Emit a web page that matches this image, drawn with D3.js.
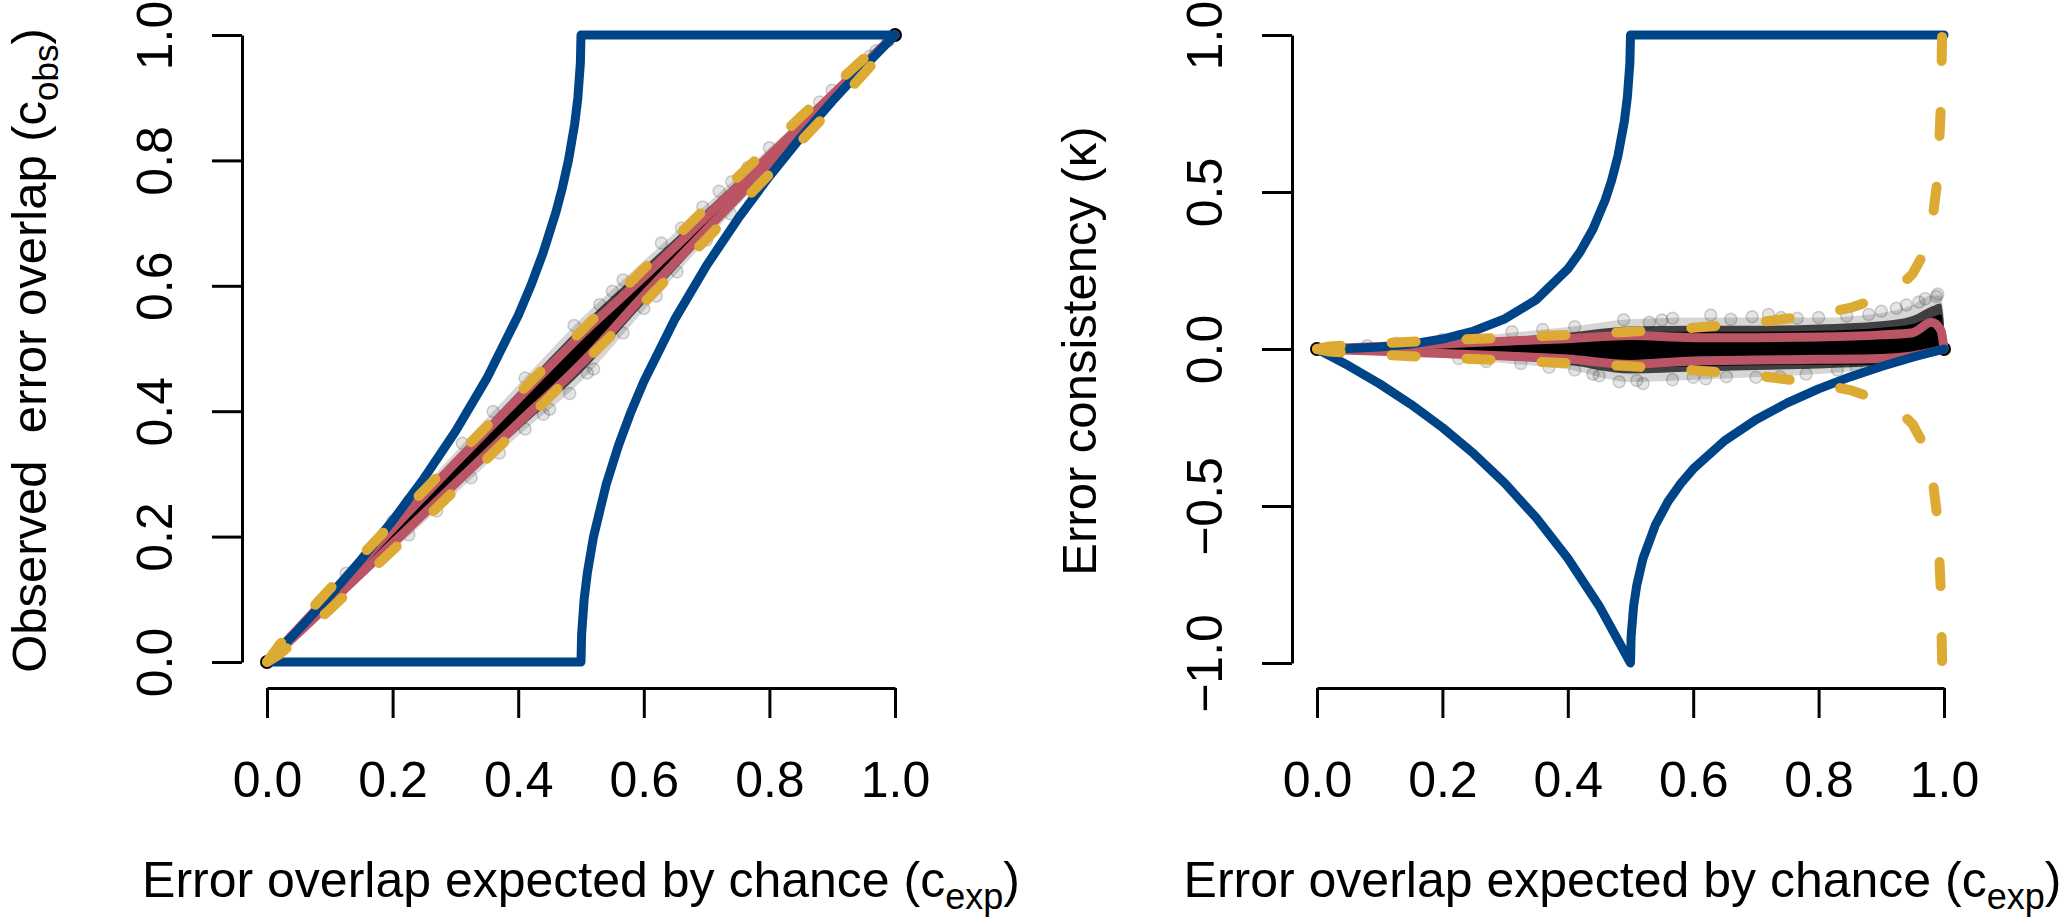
<!DOCTYPE html>
<html>
<head>
<meta charset="utf-8">
<script src="https://cdn.jsdelivr.net/npm/d3@7"></script>
<style>
body { margin: 0; background: #fff; }
svg text { font-family: "Liberation Sans", Arial, Helvetica, sans-serif; fill: #000; }
</style>
</head>
<body>
<svg id="chart" width="2063" height="917"></svg>
<script>
// tick values
var ticksX = [0, 0.2, 0.4, 0.6, 0.8, 1];
var ticksLeftY = [0, 0.2, 0.4, 0.6, 0.8, 1];
var ticksRightY = [-1, -0.5, 0, 0.5, 1];

// boundary curves, left panel (c_exp -> c_obs)
var upperC = [0, 0.05, 0.1, 0.15, 0.2, 0.25, 0.3, 0.35, 0.4, 0.42, 0.44, 0.46, 0.47, 0.48, 0.49, 0.495, 0.499, 0.5];
var upperObs = [0, 0.0513, 0.1056, 0.1633, 0.2254, 0.2929, 0.3675, 0.4523, 0.5528, 0.6, 0.6536, 0.7172, 0.7551, 0.8, 0.8586, 0.9, 0.9553, 1];
var lowerC = [0.5, 0.501, 0.505, 0.51, 0.52, 0.54, 0.56, 0.58, 0.6, 0.65, 0.7, 0.75, 0.8, 0.85, 0.9, 0.95, 1];
var lowerObs = [0, 0.0447, 0.1, 0.1414, 0.2, 0.2828, 0.3464, 0.4, 0.4472, 0.5477, 0.6325, 0.7071, 0.7746, 0.8367, 0.8944, 0.9487, 1];

// boundary curves, right panel (c_exp -> kappa)
var upperKappa = [0, 0.0014, 0.0062, 0.0157, 0.0318, 0.0572, 0.0965, 0.1574, 0.2546, 0.3103, 0.3814, 0.4762, 0.5378, 0.6154, 0.7227, 0.802, 0.9107, 1];
var negC = [0, 0.05, 0.1, 0.15, 0.2, 0.25, 0.3, 0.35, 0.4, 0.45, 0.5];
var negKappa = [0, -0.0526, -0.1111, -0.1765, -0.25, -0.3333, -0.4286, -0.5385, -0.6667, -0.8182, -1];
var lowerKappa = [-1, -0.9144, -0.8182, -0.7522, -0.6667, -0.559, -0.4854, -0.4286, -0.382, -0.2922, -0.2251, -0.1716, -0.127, -0.0889, -0.0557, -0.0263, 0];

// simulated kappa cloud
var cloudC = [0, 0.05, 0.1, 0.2, 0.3, 0.4, 0.5, 0.6, 0.7, 0.8, 0.9, 0.95, 0.98, 0.995, 1];
var outerUp = [0, 0.006, 0.012, 0.03, 0.05, 0.07, 0.095, 0.1, 0.1, 0.1, 0.115, 0.14, 0.17, 0.17, 0.1];
var outerLo = [0, -0.006, -0.012, -0.028, -0.045, -0.065, -0.105, -0.098, -0.09, -0.08, -0.056, -0.026, -0.01, -0.003, 0];
var midUp = [0, 0.004, 0.009, 0.022, 0.036, 0.052, 0.072, 0.074, 0.074, 0.078, 0.088, 0.105, 0.135, 0.145, 0.08];
var midLo = [0, -0.004, -0.009, -0.02, -0.034, -0.05, -0.078, -0.072, -0.067, -0.062, -0.052, -0.026, -0.01, -0.003, 0];
var coreUp = [0, 0.003, 0.007, 0.016, 0.026, 0.036, 0.055, 0.055, 0.055, 0.058, 0.068, 0.08, 0.1, 0.11, 0.05];
var coreLo = [0, -0.003, -0.006, -0.014, -0.024, -0.036, -0.06, -0.055, -0.052, -0.05, -0.05, -0.026, -0.01, -0.003, 0];

// quantile lines (red)
var redUp = [0, 0.004, 0.008, 0.016, 0.025, 0.033, 0.043, 0.036, 0.036, 0.038, 0.045, 0.052, 0.085, 0.06, 0];
var redLo = [0, -0.004, -0.007, -0.014, -0.022, -0.032, -0.049, -0.038, -0.035, -0.033, -0.03, -0.022, -0.01, -0.003, 0];

// stray points at the edge of the cloud
var haloC = [0.126, 0.226, 0.311, 0.411, 0.489, 0.567, 0.628, 0.694, 0.766, 0.845, 0.924, 0.988, 0.226, 0.325, 0.411, 0.482, 0.567, 0.653, 0.738, 0.83, 0.53, 0.72, 0.9, 0.96, 0.45, 0.6,
	0.36, 0.55, 0.66, 0.74, 0.8, 0.88, 0.94, 0.97, 0.99, 0.2, 0.08, 0.27, 0.37, 0.51, 0.62, 0.7, 0.78, 0.86, 0.52, 0.44];
var haloK = [0.018, 0.039, 0.055, 0.071, 0.093, 0.098, 0.108, 0.103, 0.098, 0.105, 0.13, 0.167, -0.03, -0.046, -0.067, -0.104, -0.098, -0.088, -0.088, -0.067, 0.085, 0.11, 0.12, 0.15, -0.085, -0.09,
	0.062, 0.092, 0.095, 0.1, 0.1, 0.11, 0.14, 0.16, 0.175, 0.03, 0.01, -0.04, -0.058, -0.1, -0.095, -0.09, -0.08, -0.06, -0.11, -0.08];

// expected 95% band (yellow dashed)
var bandC = [0, 0.02, 0.05, 0.1, 0.2, 0.3, 0.4, 0.5, 0.6, 0.7, 0.8, 0.85, 0.9, 0.93, 0.95, 0.97, 0.98, 0.99, 0.995, 0.997, 1];
var bandK = [0, 0.0079, 0.0126, 0.0183, 0.0275, 0.036, 0.0449, 0.055, 0.0674, 0.084, 0.11, 0.1309, 0.165, 0.2005, 0.2397, 0.3127, 0.385, 0.547, 0.776, 1, 1];

var BLUE = "#004488", RED = "#BB5566", YELLOW = "#DDAA33";

var svg = d3.select("#chart");

function toObs(c, k) {
	return c + k * (1 - c);
}

var left = {
	x: d3.scaleLinear().domain([0, 1]).range([267, 895]),
	y: d3.scaleLinear().domain([0, 1]).range([662, 35]),
	axisX: 242, axisY: 688, titleShift: 0,
	conv: toObs
};
var right = {
	x: d3.scaleLinear().domain([0, 1]).range([1317, 1944]),
	y: d3.scaleLinear().domain([-1, 1]).range([663, 35]),
	axisX: 1292, axisY: 688, titleShift: -8,
	conv: function(c, k) { return k; }
};

function draw_axes(p, yTicks, titleMain, titleSub, titleEnd) {
	var fmt = d3.format(".1f");
	var ya = svg.append("g").attr("transform", "translate(" + p.axisX + ",0)")
		.call(d3.axisLeft(p.y).tickValues(yTicks).tickSize(30).tickSizeOuter(0).tickFormat(fmt));
	ya.selectAll("text").attr("x", null).attr("dy", null)
		.attr("transform", "translate(-70,0) rotate(-90)")
		.attr("text-anchor", "middle").style("font-size", "50px");

	var xa = svg.append("g").attr("transform", "translate(0," + p.axisY + ")")
		.call(d3.axisBottom(p.x).tickValues(ticksX).tickSize(30).tickSizeOuter(0).tickFormat(fmt));
	xa.selectAll("text").attr("y", 109).attr("dy", null).style("font-size", "50px");

	svg.selectAll(".domain, .tick line").attr("stroke", "#000").attr("stroke-width", 3);

	// x title
	var cx = (p.x.range()[0] + p.x.range()[1]) / 2 + p.titleShift;
	var xt = svg.append("text").attr("x", cx).attr("y", 897)
		.attr("text-anchor", "middle").style("font-size", "50px");
	xt.append("tspan").text("Error overlap expected by chance (c");
	xt.append("tspan").attr("dy", 12).style("font-size", "36px").text("exp");
	xt.append("tspan").attr("dy", -12).text(")");

	// y title
	var cy = (p.y.range()[0] + p.y.range()[1]) / 2;
	var yt = svg.append("text")
		.attr("transform", "translate(" + (p.axisX - 196) + "," + (cy + 2) + ") rotate(-90)")
		.attr("text-anchor", "middle").style("font-size", "49px");
	yt.append("tspan").text(titleMain);
	if (titleSub) {
		yt.append("tspan").attr("dy", 12).style("font-size", "35px").text(titleSub);
		yt.append("tspan").attr("dy", -12).text(titleEnd);
	}
}

function draw_band(p, up, lo, opacity) {
	var area = d3.area()
		.x(function(d, i) { return p.x(cloudC[i]); })
		.y0(function(d, i) { return p.y(p.conv(cloudC[i], lo[i])); })
		.y1(function(d, i) { return p.y(p.conv(cloudC[i], up[i])); })
		.curve(d3.curveMonotoneX);
	svg.append("path").datum(cloudC).attr("d", area)
		.attr("fill", "#000").attr("fill-opacity", opacity);
}

function draw_cloud(p) {
	draw_band(p, outerUp, outerLo, 0.16);
	draw_band(p, midUp, midLo, 0.7);
	draw_band(p, coreUp, coreLo, 1);

	svg.append("g").selectAll("circle").data(haloC).join("circle")
		.attr("cx", function(d) { return p.x(d); })
		.attr("cy", function(d, i) { return p.y(p.conv(d, haloK[i])); })
		.attr("r", 6)
		.attr("fill", "#000").attr("fill-opacity", 0.1)
		.attr("stroke", "#000").attr("stroke-opacity", 0.18).attr("stroke-width", 1.5);
}

function draw_red(p) {
	[redUp, redLo].forEach(function(arr) {
		var line = d3.line()
			.x(function(d, i) { return p.x(cloudC[i]); })
			.y(function(d, i) { return p.y(p.conv(cloudC[i], arr[i])); })
			.curve(d3.curveMonotoneX);
		svg.append("path").datum(cloudC).attr("d", line)
			.attr("fill", "none").attr("stroke", RED).attr("stroke-width", 9)
			.attr("stroke-linecap", "round").attr("stroke-linejoin", "round");
	});
}

function draw_yellow(p) {
	[1, -1].forEach(function(sign) {
		var line = d3.line()
			.x(function(d) { return p.x(d); })
			.y(function(d, i) { return p.y(p.conv(d, sign * bandK[i])); });
		svg.append("path").datum(bandC).attr("d", line)
			.attr("fill", "none").attr("stroke", YELLOW).attr("stroke-width", 10)
			.attr("stroke-dasharray", "24 51")
			.attr("stroke-linecap", "round").attr("stroke-linejoin", "round");
	});
}

function draw_dots(p, pts) {
	svg.append("g").selectAll("circle").data(pts).join("circle")
		.attr("cx", function(d) { return p.x(d[0]); })
		.attr("cy", function(d) { return p.y(d[1]); })
		.attr("r", 7).attr("fill", "#000");
}

function blue_path(p, pts, closed) {
	var line = d3.line()
		.x(function(d) { return p.x(d[0]); })
		.y(function(d) { return p.y(d[1]); });
	svg.append("path").attr("d", line(pts) + (closed ? "Z" : ""))
		.attr("fill", "none").attr("stroke", BLUE).attr("stroke-width", 9)
		.attr("stroke-linecap", "round").attr("stroke-linejoin", "round");
}

// ---- left panel ----
draw_axes(left, ticksLeftY, "Observed\u00a0\u00a0error overlap (c", "obs", ")");
draw_cloud(left);
draw_dots(left, [[0, 0], [1, 1]]);
draw_red(left);
var leftPts = [[0, 0]];
lowerC.forEach(function(c, i) { leftPts.push([c, lowerObs[i]]); });
for (var i = upperC.length - 1; i > 0; i--) leftPts.push([upperC[i], upperObs[i]]);
blue_path(left, leftPts, true);
draw_yellow(left);

// ---- right panel ----
draw_axes(right, ticksRightY, "Error consistency (\u03ba)", null, null);
draw_cloud(right);
draw_dots(right, [[0, 0], [1, 0]]);
draw_red(right);
var rightPts = [[1, 1]];
for (var j = upperC.length - 1; j >= 0; j--) rightPts.push([upperC[j], upperKappa[j]]);
negC.forEach(function(c, i) { if (i > 0) rightPts.push([c, negKappa[i]]); });
lowerC.forEach(function(c, i) { if (i > 0) rightPts.push([c, lowerKappa[i]]); });
blue_path(right, rightPts, false);
draw_yellow(right);
</script>
</body>
</html>
